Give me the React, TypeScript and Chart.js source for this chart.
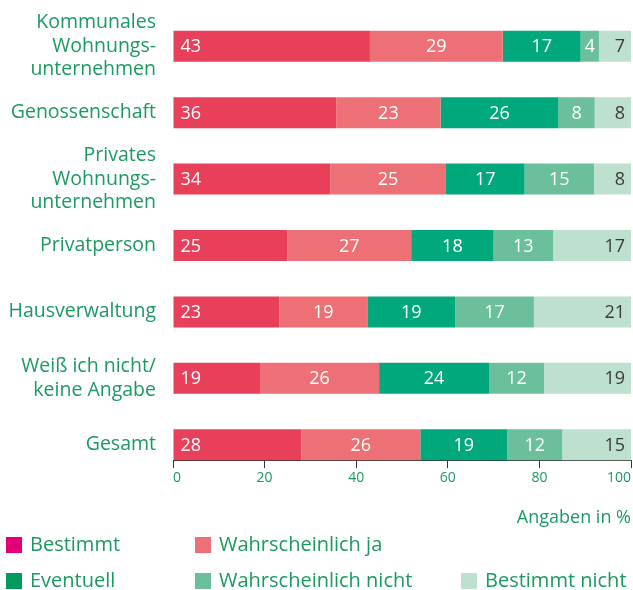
import React, { useEffect, useRef } from "react";
import { Chart, registerables } from "chart.js";

Chart.register(...registerables);

const categories: string[][] = [
  ["Kommunales", "Wohnungs-", "unternehmen"],
  ["Genossenschaft"],
  ["Privates", "Wohnungs-", "unternehmen"],
  ["Privatperson"],
  ["Hausverwaltung"],
  ["Weiß ich nicht/", "keine Angabe"],
  ["Gesamt"],
];

const seriesNames = ["Bestimmt", "Wahrscheinlich ja", "Eventuell", "Wahrscheinlich nicht", "Bestimmt nicht"];

const bestimmt = [43, 36, 34, 25, 23, 19, 28];
const wahrscheinlichJa = [29, 23, 25, 27, 19, 26, 26];
const eventuell = [17, 26, 17, 18, 19, 24, 19];
const wahrscheinlichNicht = [4, 8, 15, 13, 17, 12, 12];
const bestimmtNicht = [7, 8, 8, 17, 21, 19, 15];

const xTicks = [0, 20, 40, 60, 80, 100];

const barColors = ["#E8405A", "#EE7077", "#00A87B", "#6CBF9B", "#BEE0CE"];
const legendColors = ["#E2007A", "#EE7077", "#009A5E", "#6CBF9B", "#BEE0CE"];
const GREEN = "#1B9A60";
const FONT = "'Open Sans', 'Noto Sans', sans-serif";
const BAR_PCT = 0.467;

const valueLabels = {
  id: "valueLabels",
  afterDatasetsDraw(chart: any) {
    const ctx = chart.ctx;
    const n = chart.data.datasets.length;
    ctx.save();
    ctx.font = `18px ${FONT}`;
    ctx.textBaseline = "middle";
    chart.data.datasets.forEach((ds: any, di: number) => {
      const meta = chart.getDatasetMeta(di);
      meta.data.forEach((el: any, i: number) => {
        const v = ds.raw[i];
        const { x, base, y } = el.getProps(["x", "base", "y"], true);
        const right = Math.min(x, chart.chartArea.right);
        ctx.fillStyle = di === n - 1 ? "#3A3A3A" : "#FFFFFF";
        if (di === 0) {
          ctx.textAlign = "left";
          ctx.fillText(String(v), base + 7, y + 1);
        } else if (di === n - 1) {
          ctx.textAlign = "right";
          ctx.fillText(String(v), right - 6, y + 1);
        } else {
          ctx.textAlign = "center";
          ctx.fillText(String(v), (base + x) / 2, y + 1);
        }
      });
    });
    ctx.restore();
  },
};

const legendPlugin = {
  id: "customLegend",
  afterDraw(chart: any) {
    const ctx = chart.ctx;
    const h = chart.height;
    const cols = [6, 195, 461];
    const rows = [h - 45, h - 9];
    const slots = [
      [0, 0],
      [1, 0],
      [0, 1],
      [1, 1],
      [2, 1],
    ];
    ctx.save();
    ctx.font = `20px ${FONT}`;
    ctx.textBaseline = "middle";
    ctx.textAlign = "left";
    seriesNames.forEach((name, i) => {
      const [c, r] = slots[i];
      const x = cols[c];
      const y = rows[r];
      ctx.fillStyle = legendColors[i];
      ctx.fillRect(x, y - 8, 16, 16);
      ctx.fillStyle = GREEN;
      ctx.fillText(name, x + 24, y);
    });
    ctx.restore();
  },
};

export default function App() {
  const ref = useRef<HTMLCanvasElement>(null);
  useEffect(() => {
    if (!ref.current) return;
    const seriesData = [bestimmt, wahrscheinlichJa, eventuell, wahrscheinlichNicht, bestimmtNicht];
    // 100% stacked: each row is shown as share of its row total
    const rowTotals = categories.map((_, r) => seriesData.reduce((s, arr) => s + arr[r], 0));
    const chart = new Chart(ref.current, {
      type: "bar",
      data: {
        labels: categories as any,
        datasets: seriesNames.map((name, i) => ({
          label: name,
          raw: seriesData[i],
          data: seriesData[i].map((v, r) => (v / rowTotals[r]) * 100),
          backgroundColor: barColors[i],
          borderWidth: 0,
          categoryPercentage: 1,
          barPercentage: BAR_PCT,
        })) as any,
      },
      plugins: [valueLabels, legendPlugin],
      options: {
        indexAxis: "y",
        animation: false,
        responsive: false,
        devicePixelRatio: 1,
        layout: { padding: { top: 13, right: 2, left: 0, bottom: 112 } },
        plugins: {
          legend: { display: false },
          tooltip: { enabled: false },
        },
        scales: {
          x: {
            stacked: true,
            min: 0,
            max: 100,
            position: { y: categories.length - 1 + BAR_PCT / 2 } as any,
            afterBuildTicks: (scale: any) => {
              scale.ticks = xTicks.map((v) => ({ value: v }));
            },
            grid: {
              drawOnChartArea: false,
              drawTicks: true,
              tickLength: 7,
              color: "#333333",
              lineWidth: 1,
            },
            border: { display: true, color: "#333333", width: 1 },
            ticks: {
              color: GREEN,
              font: { family: FONT, size: 14 },
              padding: 2,
              align: "inner",
              maxRotation: 0,
            },
            title: {
              display: true,
              text: "Angaben in %",
              align: "end",
              color: GREEN,
              font: { family: FONT, size: 18 },
              padding: { top: 19, bottom: 0 },
            },
          },
          y: {
            stacked: true,
            offset: true,
            grid: { display: false, drawTicks: false, tickLength: 0 },
            border: { display: false },
            afterFit: (scale: any) => {
              scale.width = 173;
              scale.paddingTop = 0;
              scale.paddingBottom = 0;
            },
            ticks: {
              color: GREEN,
              padding: 17,
              autoSkip: false,
              font: { family: FONT, size: 19.5, lineHeight: 1.2 },
            },
          },
        },
      },
    });
    return () => chart.destroy();
  }, []);
  return (
    <div style={{ position: "absolute", left: 0, top: 0, width: 633, height: 590 }}>
      <canvas ref={ref} width={633} height={590} />
    </div>
  );
}
